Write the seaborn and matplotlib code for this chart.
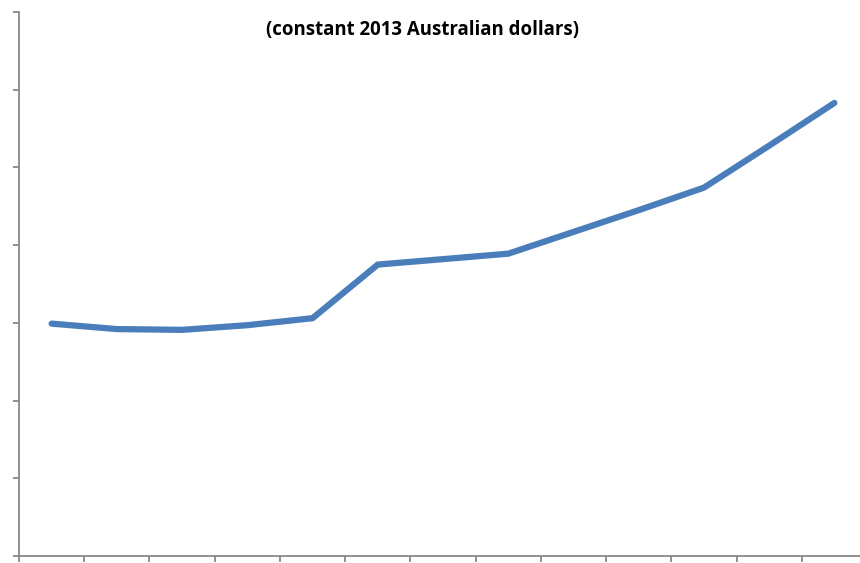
import numpy as np
import pandas as pd
import matplotlib
matplotlib.use("Agg")
import matplotlib.pyplot as plt
import seaborn as sns

# valores (sin etiquetas visibles)
periodos = list(range(13))
valores = [2.99, 2.92, 2.91, 2.97, 3.06, 3.75, 3.82, 3.89, 4.17, 4.45, 4.74, 5.28, 5.83]

df = pd.DataFrame({"periodo": periodos, "valor": valores})

sns.set_style("white")
plt.rcParams["font.family"] = ["Open Sans", "DejaVu Sans"]

fig = plt.figure(figsize=(8.6, 5.63), dpi=100)
ax = fig.add_axes([19 / 860, 7 / 563, 848 / 860, 544 / 563])

sns.lineplot(data=df, x="periodo", y="valor", ax=ax, color="#4a7ebb", linewidth=4.5)

ax.set_xlim(-0.5, 12.5)
ax.set_ylim(0, 7)
ax.set_xticks(np.arange(-0.5, 13, 1))
ax.set_yticks(range(0, 8))
ax.set_xticklabels([])
ax.set_yticklabels([])
ax.set_xlabel("")
ax.set_ylabel("")

for lado in ["top", "right"]:
    ax.spines[lado].set_visible(False)
for lado in ["left", "bottom"]:
    ax.spines[lado].set_color("#888888")
    ax.spines[lado].set_linewidth(1.3)
ax.tick_params(axis="both", direction="out", length=4.5, width=1.3, color="#888888",
               left=True, bottom=True)

fig.text(423 / 860, 1 - 30 / 563, "(constant 2013 Australian dollars)",
         ha="center", va="center", fontsize=13.4, fontweight="bold", color="black")

fig.savefig("out.png", dpi=100)
